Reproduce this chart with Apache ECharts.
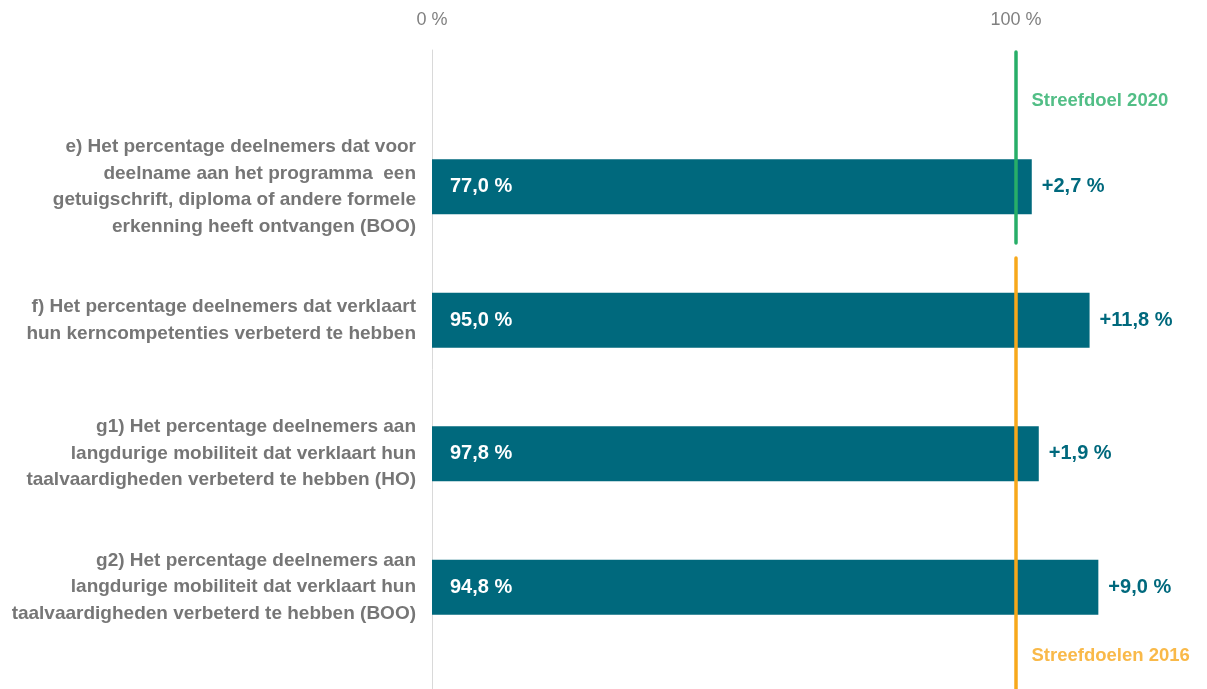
<!DOCTYPE html>
<html>
<head>
<meta charset="utf-8">
<script src="https://cdn.jsdelivr.net/npm/echarts@6/dist/echarts.min.js"></script>
<style>
  html, body { margin: 0; padding: 0; background: #ffffff; }
  #chart { width: 1207px; height: 689px; }
</style>
</head>
<body>
<div id="chart"></div>
<script>
// ---- data ----
const categories = [
  "e) Het percentage deelnemers dat voor\ndeelname aan het programma  een\ngetuigschrift, diploma of andere formele\nerkenning heeft ontvangen (BOO)",
  "f) Het percentage deelnemers dat verklaart\nhun kerncompetenties verbeterd te hebben",
  "g1) Het percentage deelnemers aan\nlangdurige mobiliteit dat verklaart hun\ntaalvaardigheden verbeterd te hebben (HO)",
  "g2) Het percentage deelnemers aan\nlangdurige mobiliteit dat verklaart hun\ntaalvaardigheden verbeterd te hebben (BOO)"
];
const barLengths = [102.7, 112.6, 103.9, 114.1];   // bar length, % of target
const results = [77.0, 95.0, 97.8, 94.8];          // value shown inside the bar
const deltas = [2.7, 11.8, 1.9, 9.0];              // value shown right of the bar
const xTickValues = [0, 100];
const targetValue = 100;
const target2020Label = "Streefdoel 2020";
const target2016Label = "Streefdoelen 2016";

// ---- styling ----
const FONT = "'Liberation Sans', Arial, sans-serif";
const TEAL = "#00697d";
const GREEN = "#27ae68";
const ORANGE = "#f7a81b";
const GREY_TEXT = "#767676";

const fmt = v => v.toFixed(1).replace('.', ',') + ' %';

const chart = echarts.init(document.getElementById('chart'), null, { renderer: 'canvas' });

const xMax = 125;
const gridLeft = 432, gridRight = 45;

const option = {
  animation: false,
  backgroundColor: '#ffffff',
  grid: [
    { left: gridLeft, right: gridRight, top: 120, bottom: 35 },
    { left: gridLeft, right: gridRight, top: 50, bottom: 0 }
  ],
  xAxis: [
    { gridIndex: 0, type: 'value', min: 0, max: xMax, show: false },
    {
      gridIndex: 1, type: 'value', min: 0, max: xMax, interval: 100, position: 'top',
      axisLine: { show: false }, axisTick: { show: false }, splitLine: { show: false },
      axisLabel: {
        margin: 21, showMaxLabel: false, color: '#808080', fontFamily: FONT, fontSize: 18,
        formatter: v => (xTickValues.includes(v) ? v + ' %' : '')
      }
    }
  ],
  yAxis: [
    {
      gridIndex: 0, type: 'category', data: categories, inverse: true,
      axisLine: { show: false }, axisTick: { show: false }, splitLine: { show: false },
      axisLabel: {
        margin: 16, color: GREY_TEXT, fontFamily: FONT, fontWeight: 'bold',
        fontSize: 19, lineHeight: 26.5, align: 'right'
      }
    },
    {
      gridIndex: 1, type: 'value', min: 0, max: 639, inverse: true,
      axisLine: { show: true, lineStyle: { color: '#d9d9d9', width: 1 } },
      axisTick: { show: false }, axisLabel: { show: false }, splitLine: { show: false }
    }
  ],
  series: [
    {
      type: 'bar', xAxisIndex: 0, yAxisIndex: 0, data: barLengths, barWidth: 55,
      itemStyle: { color: TEAL },
      label: {
        show: true, position: 'insideLeft', distance: 18, color: '#ffffff',
        fontFamily: FONT, fontWeight: 'bold', fontSize: 20,
        formatter: p => fmt(results[p.dataIndex])
      },
      z: 2
    },
    {
      type: 'bar', xAxisIndex: 0, yAxisIndex: 0, data: barLengths, barWidth: 55, barGap: '-100%',
      itemStyle: { color: 'rgba(0,0,0,0)' }, silent: true,
      label: {
        show: true, position: 'right', distance: 10, color: TEAL,
        fontFamily: FONT, fontWeight: 'bold', fontSize: 20,
        formatter: p => '+' + fmt(deltas[p.dataIndex])
      },
      z: 3
    },
    {
      type: 'line', xAxisIndex: 1, yAxisIndex: 1, symbol: 'none',
      data: [[targetValue, 2], [targetValue, 193]],
      lineStyle: { color: GREEN, width: 3.5, cap: 'round' }, z: 5
    },
    {
      type: 'line', xAxisIndex: 1, yAxisIndex: 1, symbol: 'none',
      data: [[targetValue, 208], [targetValue, 639]],
      lineStyle: { color: ORANGE, width: 3.5, cap: 'round' }, z: 5
    },
    {
      type: 'scatter', xAxisIndex: 1, yAxisIndex: 1, symbolSize: 1,
      itemStyle: { color: 'rgba(0,0,0,0)' },
      data: [[targetValue, 51]],
      label: {
        show: true, position: 'right', distance: 15, color: GREEN,
        fontFamily: FONT, fontWeight: 'bold', fontSize: 18.5,
        formatter: () => target2020Label
      }
    },
    {
      type: 'scatter', xAxisIndex: 1, yAxisIndex: 1, symbolSize: 1,
      itemStyle: { color: 'rgba(0,0,0,0)' },
      data: [[targetValue, 606]],
      label: {
        show: true, position: 'right', distance: 15, color: ORANGE,
        fontFamily: FONT, fontWeight: 'bold', fontSize: 18.5,
        formatter: () => target2016Label
      }
    }
  ]
};

chart.setOption(option);
</script>
</body>
</html>
